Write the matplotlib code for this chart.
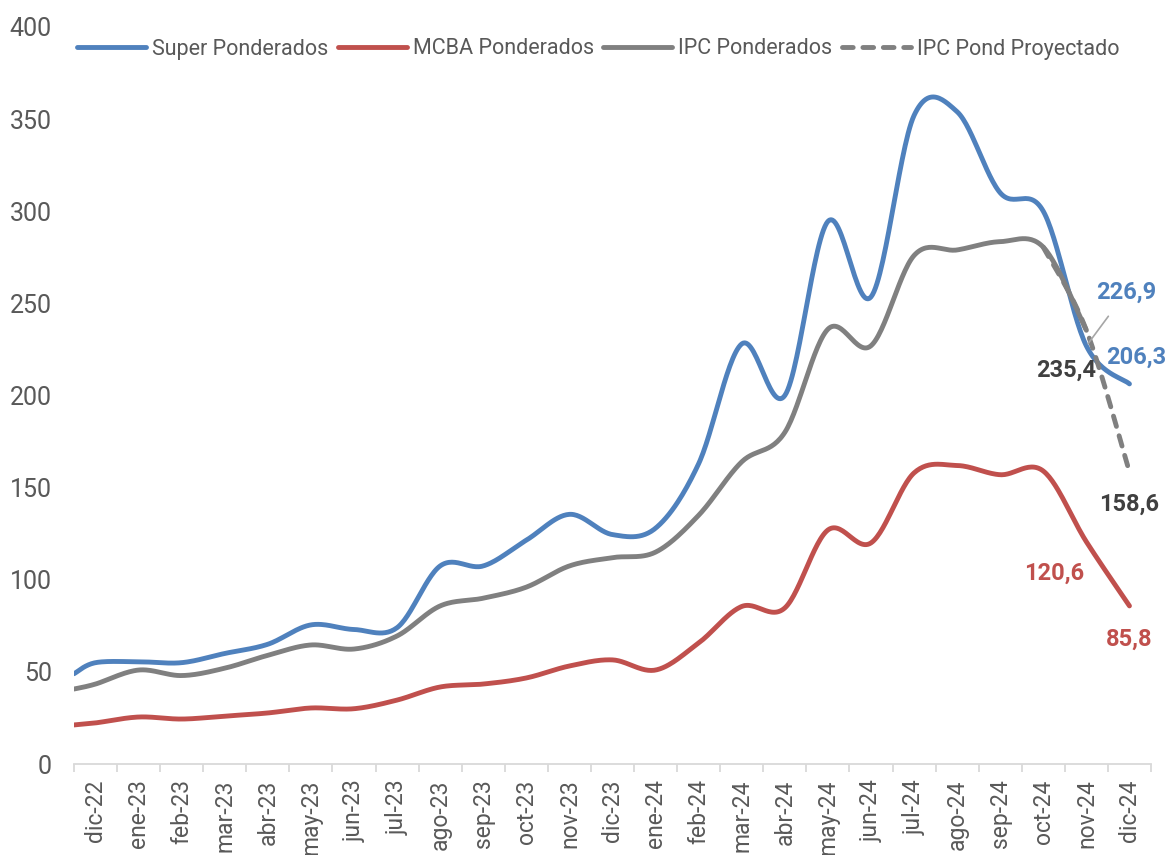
import numpy as np
from matplotlib import pyplot as plt

plt.rcParams["font.family"] = ["Roboto", "DejaVu Sans"]

months = ["dic-22", "ene-23", "feb-23", "mar-23", "abr-23", "may-23", "jun-23",
          "jul-23", "ago-23", "sep-23", "oct-23", "nov-23", "dic-23", "ene-24",
          "feb-24", "mar-24", "abr-24", "may-24", "jun-24", "jul-24", "ago-24",
          "sep-24", "oct-24", "nov-24", "dic-24"]

# value where each line enters at the left edge of the axis
lead_super, lead_mcba, lead_ipc = 49.0, 21.2, 40.7

super_pond = [55, 55.5, 55, 60, 65, 75.5, 73, 74, 107.5, 107.5, 121.5, 135.5,
              124.5, 128, 163, 228, 200, 294.5, 253.5, 352, 354, 310, 300,
              226.9, 206.3]
mcba_pond = [22.3, 25.5, 24.4, 26, 27.7, 30.4, 30, 34.7, 41.8, 43.4, 46.7, 53.2,
             56.5, 51, 65.7, 85.5, 84.7, 127, 120, 158, 162, 157, 159,
             120.6, 85.8]
ipc_pond = [43.4, 51, 48, 52, 59, 64.6, 62.4, 69.5, 85.8, 90, 96, 107.5, 112,
            115, 135, 164, 180, 236, 227, 276, 279, 283.5, 280.5, 235.4]
ipc_proj = [280.5, 235.4, 158.6]  # oct-24 .. dic-24

BLUE, RED, GRAY = "#4F81BD", "#C0504D", "#808080"
TXT = "#595959"


def smooth(x, y, n=30):
    # Catmull-Rom style curve, like a spreadsheet "smoothed line"
    x = np.asarray(x, float)
    y = np.asarray(y, float)
    px = np.r_[x[0], x, x[-1]]
    py = np.r_[y[0], y, y[-1]]
    t = np.linspace(0, 1, n)[:, None]
    xs, ys = [], []
    for i in range(1, len(px) - 2):
        p0, p1, p2, p3 = (np.array([px[j], py[j]]) for j in (i - 1, i, i + 1, i + 2))
        c1 = p1 + (p2 - p0) / 6
        c2 = p2 - (p3 - p1) / 6
        b = ((1 - t) ** 3) * p1 + 3 * ((1 - t) ** 2) * t * c1 + 3 * (1 - t) * t ** 2 * c2 + t ** 3 * p2
        xs.append(b[:, 0])
        ys.append(b[:, 1])
    return np.concatenate(xs), np.concatenate(ys)


fig = plt.figure(figsize=(11.71, 8.55), dpi=100)
ax = fig.add_axes([74 / 1171, 91 / 855, 1077 / 1171, 737 / 855])

idx = np.arange(len(months))
lw = 3.5

x, y = smooth(np.r_[-0.5, idx], np.r_[lead_super, super_pond])
ax.plot(x, y, color=BLUE, lw=lw, solid_capstyle="round", label="Super Ponderados")
x, y = smooth(np.r_[-0.5, idx], np.r_[lead_mcba, mcba_pond])
ax.plot(x, y, color=RED, lw=lw, solid_capstyle="round", label="MCBA Ponderados")
x, y = smooth(np.r_[-0.5, idx[:len(ipc_pond)]], np.r_[lead_ipc, ipc_pond])
ax.plot(x, y, color=GRAY, lw=lw, solid_capstyle="round", label="IPC Ponderados")
x, y = smooth(idx[-len(ipc_proj):], ipc_proj)
ax.plot(x, y, color=GRAY, lw=lw, dashes=(2.2, 2.0), dash_capstyle="round",
        label="IPC Pond Proyectado")

ax.set_xlim(-0.5, len(months) - 0.5)
ax.set_ylim(0, 400)
ax.set_yticks(range(0, 401, 50))
ax.set_xticks(idx, months, rotation=90)
ax.set_xticks(np.arange(-0.5, len(months)), minor=True)

for s in ("top", "right", "left"):
    ax.spines[s].set_visible(False)
ax.spines["bottom"].set_color("#D9D9D9")
ax.spines["bottom"].set_linewidth(1.3)
ax.tick_params(axis="x", which="major", length=0, pad=11, labelsize=16.5, labelcolor=TXT)
ax.tick_params(axis="x", which="minor", length=5.5, width=1.3, color="#D9D9D9")
ax.tick_params(axis="y", length=0, pad=16, labelsize=18, labelcolor=TXT)

lab = dict(textcoords="offset pixels", ha="center", va="center",
           fontsize=17, fontweight="bold")
ax.annotate("226,9", (23, super_pond[23]), xytext=(40, 54), color=BLUE,
            arrowprops=dict(arrowstyle="-", color="#A6A6A6", lw=1.2,
                            shrinkA=9, shrinkB=2), **lab)
ax.annotate("206,3", (24, super_pond[24]), xytext=(7, 27), color=BLUE, **lab)
ax.annotate("235,4", (23, ipc_pond[23]), xytext=(-20, -40), color="#404040", **lab)
ax.annotate("158,6", (24, ipc_proj[-1]), xytext=(0, -33), color="#404040", **lab)
ax.annotate("120,6", (23, mcba_pond[23]), xytext=(-32, -31), color=RED, **lab)
ax.annotate("85,8", (24, mcba_pond[24]), xytext=(0, -33), color=RED, **lab)

ax.legend(ncol=4, frameon=False, loc="center left",
          bbox_to_anchor=(77 / 1171, 1 - 49 / 855), bbox_transform=fig.transFigure,
          borderaxespad=0, borderpad=0, handlelength=3.2, handletextpad=0.3,
          columnspacing=0.42, fontsize=15.5, labelcolor=TXT)

fig.savefig("out.png", dpi=100)
